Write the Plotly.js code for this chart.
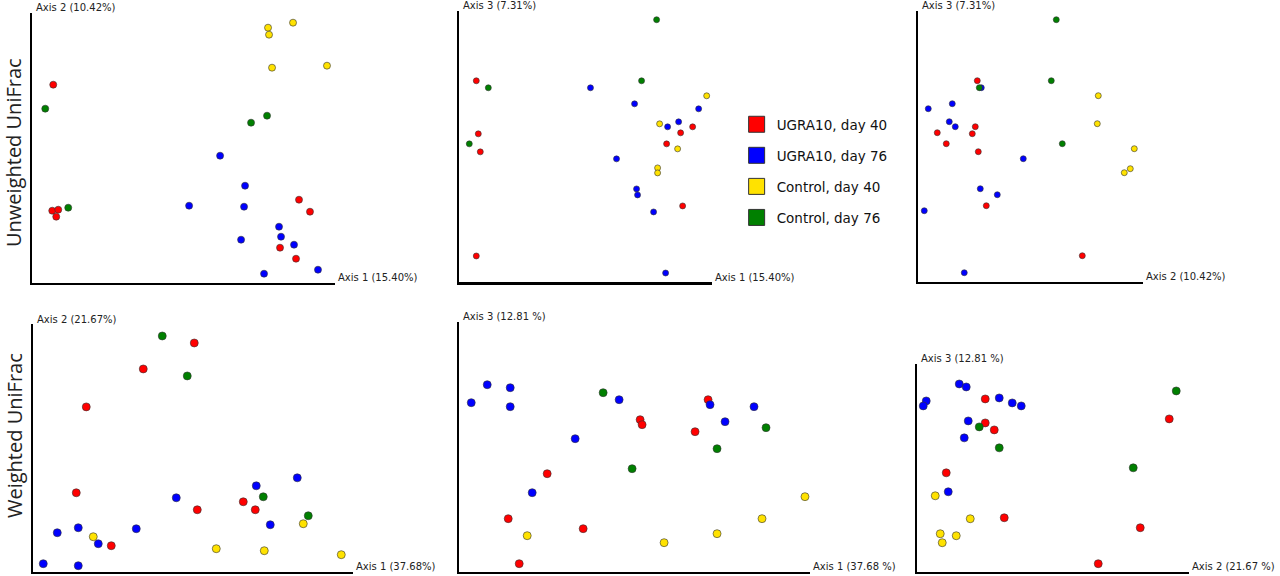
<!DOCTYPE html>
<html>
<head>
<meta charset="utf-8">
<script src="https://cdn.plot.ly/plotly-3.0.1.min.js"></script>
<style>
  html, body { margin: 0; padding: 0; background: #fff; }
  #myDiv { width: 1280px; height: 576px; }
</style>
</head>
<body>
<div id="myDiv"></div>
<script>
// groups, in legend order
var groupNames  = ["UGRA10, day 40", "UGRA10, day 76", "Control, day 40", "Control, day 76"];
var groupColors = ["#ff0000", "#0000ff", "#ffe200", "#008000"];

// PCoA scores, one [xs, ys] pair per group (same order as groupNames)
// Unweighted UniFrac, Axis 1 vs Axis 2
var unwA1A2 = [
  [[21, 20, 26, 24, 267, 278, 248, 264], [198, 72, 73, 66, 83, 71, 35, 24]],
  [[188, 213, 157, 212, 247, 249, 209, 262, 286, 232], [127, 97, 77, 76, 56, 46, 43, 38, 13, 9]],
  [[236, 237, 261, 240, 295], [255, 248, 260, 215, 217]],
  [[13, 36, 219, 235], [174, 75, 160, 167]]
];
// Unweighted UniFrac, Axis 1 vs Axis 3
var unwA1A3 = [
  [[17, 19, 21, 17, 233, 221, 207, 223], [201, 148, 130, 26, 155, 149, 138, 76]],
  [[131, 175, 239, 219, 208, 157, 177, 178, 194, 206], [194, 178, 173, 160, 155, 123, 93, 87, 70, 9]],
  [[247, 200, 218, 198, 198], [186, 158, 133, 114, 109]],
  [[197, 182, 29, 10], [262, 201, 194, 138]]
];
// Unweighted UniFrac, Axis 2 vs Axis 3
var unwA2A3 = [
  [[59, 57, 54, 19, 28, 60, 68, 164], [201, 155, 148, 149, 138, 130, 76, 26]],
  [[63, 10, 34, 31, 37, 105, 62, 79, 6, 46], [194, 173, 178, 160, 155, 123, 93, 87, 71, 9]],
  [[180, 179, 216, 212, 206], [186, 158, 133, 113, 109]],
  [[138, 133, 144, 61], [262, 201, 138, 194]]
];
// Weighted UniFrac, Axis 1 vs Axis 2
var wA1A2 = [
  [[161, 110, 53, 43, 210, 164, 222, 78], [229, 203, 165, 79, 70, 62, 62, 26]],
  [[264, 223, 143, 237, 103, 45, 24, 65, 10, 45], [94, 86, 74, 47, 43, 44, 39, 28, 8, 6]],
  [[60, 270, 183, 231, 308], [35, 48, 23, 21, 17]],
  [[129, 154, 230, 275], [236, 196, 75, 56]]
];
// Weighted UniFrac, Axis 1 vs Axis 3
var wA1A3 = [
  [[88, 49, 124, 60, 181, 183, 236, 249], [98, 53, 43, 8, 152, 147, 140, 172]],
  [[28, 51, 12, 51, 160, 116, 73, 251, 295, 266], [187, 184, 169, 165, 172, 133, 79, 167, 165, 150]],
  [[68, 205, 258, 303, 346], [36, 29, 38, 53, 75]],
  [[144, 307, 258, 173], [179, 144, 123, 103]]
];
// Weighted UniFrac, Axis 2 vs Axis 3
var wA2A3 = [
  [[68, 68, 77, 29, 87, 252, 223, 181], [173, 149, 142, 99, 54, 153, 44, 8]],
  [[42, 49, 9, 6, 82, 95, 104, 51, 47, 31], [188, 185, 171, 166, 174, 169, 166, 151, 134, 80]],
  [[18, 53, 23, 39, 25], [76, 53, 38, 36, 29]],
  [[259, 62, 82, 216], [181, 145, 124, 104]]
];

// panel setup: data, axis labels, domains (paper), ranges, marker size
var panels = [
  {data: unwA1A2, xl: "Axis 1 (15.40%)",  yl: "Axis 2 (10.42%)",  dx: [0.0252, 0.2617], dy: [0.5092, 0.978],  rx: 303, ry: 270, ms: 7},
  {data: unwA1A3, xl: "Axis 1 (15.40%)",  yl: "Axis 3 (7.31%)",   dx: [0.3588, 0.556],  dy: [0.5104, 0.9814], rx: 252, ry: 271, ms: 6},
  {data: unwA2A3, xl: "Axis 2 (10.42%)",  yl: "Axis 3 (7.31%)",   dx: [0.7174, 0.8932], dy: [0.5109, 0.9814], rx: 225, ry: 271, ms: 6},
  {data: wA1A2,   xl: "Axis 1 (37.68%)",  yl: "Axis 2 (21.67%)",  dx: [0.026, 0.276],   dy: [0.0075, 0.4375], rx: 320, ry: 248, ms: 8},
  {data: wA1A3,   xl: "Axis 1 (37.68 %)", yl: "Axis 3 (12.81 %)", dx: [0.3588, 0.6328], dy: [0.0075, 0.4415], rx: 351, ry: 250, ms: 8},
  {data: wA2A3,   xl: "Axis 2 (21.67 %)", yl: "Axis 3 (12.81 %)", dx: [0.7166, 0.9291], dy: [0.0075, 0.3681], rx: 272, ry: 208, ms: 8}
];

var traces = [];
var layout = {
  width: 1280,
  height: 576,
  margin: {l: 0, r: 0, t: 0, b: 0},
  paper_bgcolor: "#fff",
  plot_bgcolor: "rgba(0,0,0,0)",
  showlegend: true,
  legend: {
    x: 0.5755, y: 1 - 109 / 576, xanchor: "left", yanchor: "top",
    font: {family: "DejaVu Sans", size: 13.5, color: "#111"},
    itemsizing: "trace", tracegroupgap: 10.5, bgcolor: "rgba(0,0,0,0)"
  },
  annotations: []
};

var labelFont = {family: "DejaVu Sans", size: 10, color: "#222"};

panels.forEach(function (p, i) {
  var n = i === 0 ? "" : String(i + 1);
  var xa = "x" + n, ya = "y" + n;
  p.data.forEach(function (g, k) {
    traces.push({
      type: "scatter", mode: "markers",
      x: g[0], y: g[1], xaxis: xa, yaxis: ya,
      showlegend: false, cliponaxis: false, hoverinfo: "skip",
      marker: {size: p.ms, color: groupColors[k], line: {color: "#333", width: 0.6}}
    });
  });
  var axBase = {showgrid: false, zeroline: false, showticklabels: false, ticks: "",
                showline: true, linecolor: "#000", linewidth: 2.5, fixedrange: true};
  layout["xaxis" + n] = Object.assign({}, axBase, {domain: p.dx, range: [0, p.rx], anchor: ya});
  layout["yaxis" + n] = Object.assign({}, axBase, {domain: p.dy, range: [0, p.ry], anchor: xa});
  // y label sits over the top of the vertical axis, x label past the end of the horizontal one
  layout.annotations.push({
    text: p.yl, xref: xa + " domain", yref: ya + " domain", x: 0, y: 1,
    xanchor: "left", yanchor: "bottom", xshift: 2, yshift: -2.5, showarrow: false, font: labelFont
  });
  layout.annotations.push({
    text: p.xl, xref: xa + " domain", yref: ya + " domain", x: 1, y: 0,
    xanchor: "left", yanchor: "middle", xshift: 1, yshift: 5, showarrow: false, font: labelFont
  });
});

// legend-only square swatches
groupNames.forEach(function (name, k) {
  traces.push({
    type: "scatter", mode: "markers", x: [null], y: [null], name: name,
    legendgroup: "g" + k, hoverinfo: "skip",
    marker: {symbol: "square", size: 16, color: groupColors[k], line: {color: "#333", width: 1}}
  });
});

// row titles
var rowFont = {family: "Open Sans", size: 20, color: "#222"};
layout.annotations.push({text: "Unweighted UniFrac", xref: "paper", yref: "paper", x: 13 / 1280, y: 1 - 153 / 576,
  xanchor: "center", yanchor: "middle", textangle: -90, showarrow: false, font: rowFont});
layout.annotations.push({text: "Weighted UniFrac", xref: "paper", yref: "paper", x: 14 / 1280, y: 1 - 436 / 576,
  xanchor: "center", yanchor: "middle", textangle: -90, showarrow: false, font: rowFont});

Plotly.newPlot("myDiv", traces, layout, {displayModeBar: false, staticPlot: true});
</script>
</body>
</html>
